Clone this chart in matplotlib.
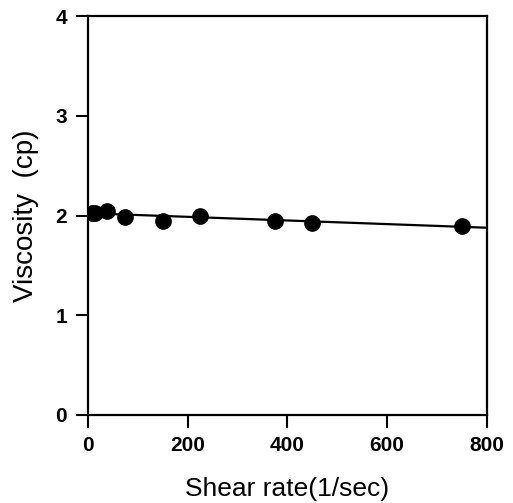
"""Viscosity vs shear rate with linear fit."""

import matplotlib

matplotlib.use("Agg")

import matplotlib.pyplot as plt
import numpy as np


shear_rate = [7.5, 15, 37.5, 75, 150, 225, 375, 450, 750]
viscosity = [2.03, 2.03, 2.05, 1.99, 1.95, 2.00, 1.95, 1.93, 1.90]

x_ticks = [0, 200, 400, 600, 800]
y_ticks = [0, 1, 2, 3, 4]


def main() -> None:
    plt.rcParams["font.family"] = ["Liberation Sans", "DejaVu Sans"]

    fig = plt.figure(figsize=(5.13, 5.03), dpi=100)
    ax = fig.add_axes([0.1715, 0.175, 0.7775, 0.793])

    slope, intercept = np.polyfit(shear_rate, viscosity, 1)
    fit_x = np.array([0, 800])
    ax.plot(fit_x, intercept + slope * fit_x, color="black", lw=1.6, zorder=2)
    ax.plot(shear_rate, viscosity, "o", color="black", ms=11, zorder=3)

    ax.set_xlim(0, 800)
    ax.set_ylim(0, 4)
    ax.set_xticks(x_ticks)
    ax.set_yticks(y_ticks)
    ax.tick_params(direction="out", length=9, width=1.5, labelsize=15, pad=6)
    for label in ax.get_xticklabels() + ax.get_yticklabels():
        label.set_fontweight("bold")
    for spine in ax.spines.values():
        spine.set_linewidth(1.6)

    ax.set_xlabel("Shear rate(1/sec)", fontsize=19, labelpad=16)
    ax.set_ylabel("Viscosity  (cp)", fontsize=20, labelpad=12)

    fig.savefig("out.png", dpi=100)
    plt.close(fig)


if __name__ == "__main__":
    main()
